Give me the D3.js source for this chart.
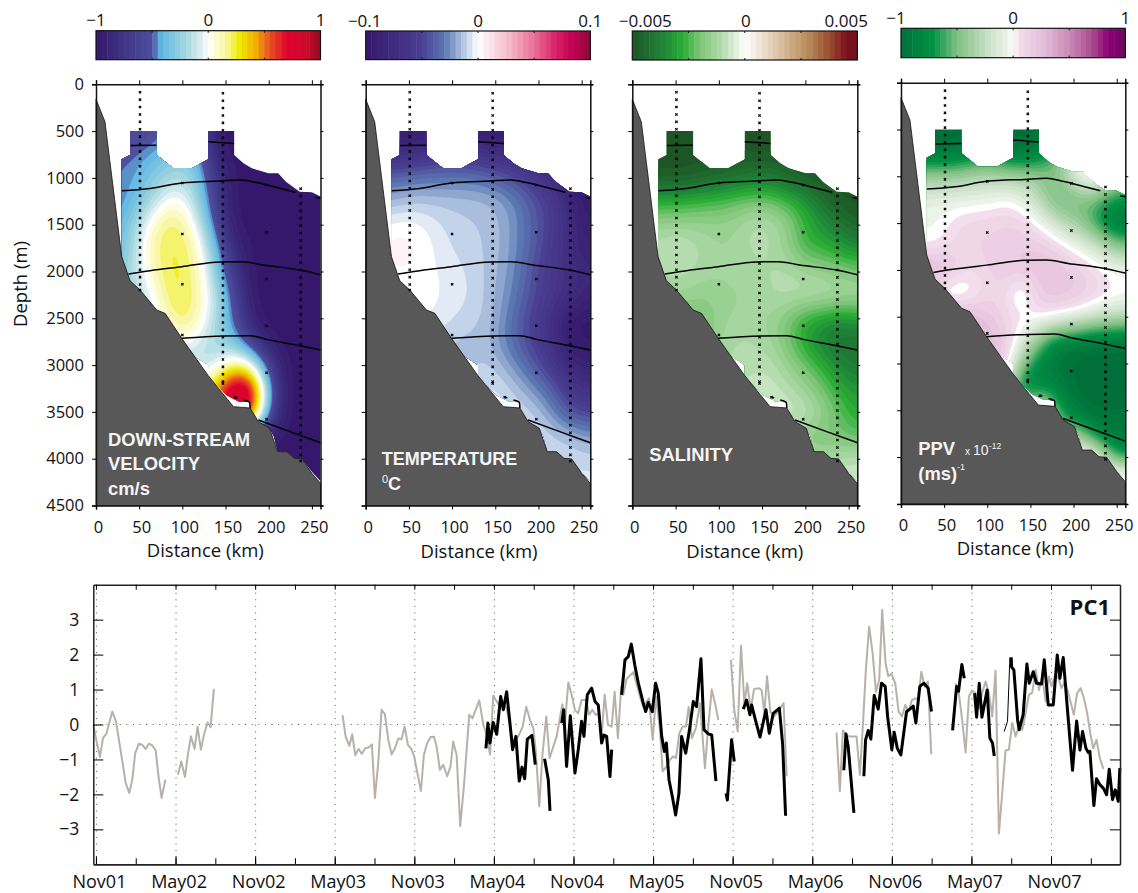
<!DOCTYPE html>
<html>
<head>
<meta charset="utf-8">
<title>PC1</title>
<script src="https://cdnjs.cloudflare.com/ajax/libs/d3/7.8.5/d3.min.js"></script>
<style>
    html, body { margin: 0; padding: 0; background: #fff; }
    text { font-family: "Open Sans", sans-serif; fill: #111; }
    .label-white { font-family: "Liberation Sans", sans-serif; font-weight: bold; fill: #f4f4f4; }
    .label-thin { font-family: "Liberation Sans", sans-serif; fill: #f4f4f4; }
</style>
</head>
<body>
<div id="chart"></div>
<script>
// Section grid: columns in km, rows in m
var gridKm = [20, 40, 60, 80, 100, 120, 140, 160, 180, 200, 220, 240, 260];
var gridDepth = [500, 750, 1000, 1250, 1500, 1750, 2000, 2250, 2500, 2750, 3000, 3250, 3500, 3750, 4000, 4250];

var velocityGrid = [
    [-.6, -.62, -.6, -.5, -.3, -.5, -1, -1, -1, -1, -1, -1, -1],
    [-.5, -.5, -.42, -.35, -.3, -.42, -.95, -1, -1, -1, -1, -1, -1],
    [-.48, -.45, -.33, -.22, -.16, -.3, -.75, -1, -1, -1, -1, -1, -1],
    [-.5, -.42, -.25, .02, .05, -.25, -.7, -1, -1, -1, -1, -1, -1],
    [-.45, -.3, .04, .23, .2, -.08, -.6, -1, -1, -1, -1, -1, -1],
    [-.4, -.25, .1, .24, .24, .1, -.4, -.85, -1, -1, -1, -1, -1],
    [-.35, -.2, .05, .23, .25, .12, -.3, -.75, -1, -1, -1, -1, -1],
    [-.3, -.2, -.08, .2, .26, .14, -.15, -.55, -1, -1, -1, -1, -1],
    [-.3, -.2, -.2, .12, .26, .12, -.2, -.5, -.95, -1, -1, -1, -1],
    [-.3, -.3, -.3, -.2, .08, -.1, -.22, -.35, -.7, -1, -1, -1, -1],
    [-.3, -.3, -.3, -.3, -.2, -.2, -.12, .2, .05, -.65, -1, -1, -1],
    [-.3, -.3, -.3, -.3, -.1, .1, .5, 1, 1, -.4, -1, -1, -1],
    [-.3, -.3, -.3, -.3, 0, .2, .6, 1, .85, -.5, -1, -1, -1],
    [-.3, -.3, -.3, -.3, 0, .1, .2, .3, -.6, -1, -1, -1, -1],
    [-1, -1, -1, -1, -1, -1, -1, -1, -1, -1, -1, -1, -1],
    [-1, -1, -1, -1, -1, -1, -1, -1, -1, -1, -1, -1, -1]
];

var temperatureGrid = [
    [-1, -1, -1, -.95, -.8, -.95, -1, -1, -1, -1, -1, -1, -1],
    [-.7, -.7, -.65, -.6, -.55, -.6, -.65, -.7, -.7, -.8, -.9, -1, -1],
    [-.35, -.33, -.3, -.3, -.3, -.3, -.32, -.4, -.5, -.6, -.75, -1, -1],
    [-.18, -.15, -.12, -.13, -.13, -.14, -.15, -.2, -.3, -.45, -.55, -.85, -1],
    [-.02, .02, 0, -.05, -.1, -.12, -.13, -.18, -.3, -.42, -.55, -.8, -.95],
    [.03, .07, .03, -.03, -.08, -.1, -.13, -.18, -.3, -.44, -.6, -.8, -.9],
    [0, .02, .01, -.02, -.05, -.08, -.13, -.2, -.32, -.5, -.6, -.75, -.82],
    [0, 0, 0, -.01, -.04, -.07, -.13, -.22, -.35, -.5, -.6, -.75, -.85],
    [0, 0, 0, -.03, -.07, -.1, -.13, -.25, -.42, -.55, -.75, -1, -1],
    [-.1, -.1, -.1, -.1, -.13, -.15, -.15, -.28, -.42, -.55, -.75, -1, -1],
    [-.15, -.15, -.15, -.15, -.15, -.15, -.1, -.18, -.3, -.45, -.6, -.85, -.85],
    [-.1, -.1, -.1, -.1, -.1, -.1, -.05, -.08, -.17, -.28, -.42, -.62, -.7],
    [-.05, -.05, -.05, -.05, -.05, -.05, -.03, -.05, -.08, -.12, -.3, -.48, -.52],
    [-.05, -.05, -.05, -.05, -.05, -.05, -.05, -.05, -.06, -.08, -.1, -.15, -.22],
    [-.06, -.06, -.06, -.06, -.06, -.06, -.06, -.06, -.06, -.06, -.08, -.08, -.1],
    [-.05, -.05, -.05, -.05, -.05, -.05, -.05, -.05, -.05, -.05, -.05, -.05, -.05]
];

var salinityGrid = [
    [-1, -1, -1, -1, -1, -1, -1, -1, -1, -1, -1, -1, -1],
    [-1, -1, -1, -1, -1, -1, -1, -1, -1, -1, -1, -1, -1],
    [-1, -1, -1, -.95, -.9, -.85, -.8, -.8, -.9, -1, -1, -1, -1],
    [-.55, -.55, -.55, -.5, -.48, -.42, -.38, -.4, -.5, -.62, -.85, -1, -1],
    [-.32, -.28, -.28, -.28, -.3, -.27, -.18, -.2, -.3, -.55, -.65, -.8, -.95],
    [-.2, -.12, -.15, -.22, -.28, -.27, -.2, -.22, -.32, -.55, -.55, -.62, -.72],
    [-.28, -.2, -.2, -.25, -.26, -.26, -.25, -.22, -.2, -.25, -.3, -.35, -.4],
    [-.3, -.27, -.28, -.32, -.3, -.28, -.27, -.22, -.18, -.16, -.16, -.18, -.2],
    [-.4, -.4, -.42, -.42, -.3, -.26, -.28, -.28, -.4, -.58, -.62, -.72, -.62],
    [-.4, -.4, -.4, -.4, -.28, -.2, -.22, -.26, -.42, -.62, -.8, -.85, -.85],
    [-.3, -.3, -.3, -.3, -.22, -.22, -.2, -.18, -.3, -.42, -.55, -.75, -.8],
    [-.2, -.2, -.2, -.2, -.2, -.15, -.13, -.13, -.2, -.3, -.42, -.58, -.68],
    [-.2, -.2, -.2, -.2, -.2, -.2, -.2, -.12, -.1, -.13, -.28, -.45, -.6],
    [-.25, -.25, -.25, -.25, -.25, -.25, -.25, -.25, -.3, -.35, -.42, -.42, -.5],
    [-.3, -.3, -.3, -.3, -.3, -.3, -.3, -.3, -.3, -.3, -.25, -.2, -.15],
    [-.1, -.1, -.1, -.1, -.1, -.1, -.1, -.1, -.1, -.1, -.1, -.1, -.1]
];

var ppvGrid = [
    [-1, -1, -1, -1, -.7, -1, -1, -1, -1, -1, -1, -1, -1],
    [-1, -1, -1, -.9, -.8, -.95, -1, -.9, -.6, -.1, .15, .1, .1],
    [-.38, -.38, -.38, -.33, -.28, -.33, -.33, -.38, -.5, -.1, .2, -.15, -.3],
    [-.08, -.06, -.06, -.06, -.06, .02, -.05, -.3, -.62, -.6, -.55, -.7, -.8],
    [-.03, -.04, .06, .12, .12, .15, .12, .02, -.2, -.35, -.6, -.95, -1],
    [-.02, -.02, .08, .12, .14, .14, .18, .18, .12, -.02, -.1, -.3, -.5],
    [.38, .38, .22, .08, .12, .2, .2, .25, .25, .18, .1, .02, -.02],
    [.3, -.1, -.2, -.1, .1, .1, -.22, .2, .22, .22, .15, .08, .03],
    [.3, .3, .4, .35, .2, .1, .08, .1, .05, -.02, -.12, -.22, -.25],
    [.3, .3, .3, .3, .3, .2, -.08, -.5, -.85, -.9, -1, -1, -1],
    [.25, .25, .25, .25, .25, .25, -.45, -.8, -1, -1, -1, -1, -1],
    [0, 0, 0, 0, 0, 0, -1, -.9, -.8, -1, -1, -1, -1],
    [0, 0, 0, 0, 0, 0, -.5, .2, -.6, -.95, -1, -1, -.95],
    [0, 0, 0, 0, 0, 0, 0, 0, -.5, -.3, -.8, -.9, -1],
    [0, 0, 0, 0, 0, 0, 0, 0, 0, .1, .2, -.5, -.8],
    [.3, .3, .3, .3, .3, .3, .3, .3, .3, .3, .3, .3, .3]
];

// Sea floor and the outline of the gridded data, [km, m]
var bathymetry = [[0, 160], [10.4, 400], [29.8, 1841], [39.4, 2098], [51, 2198], [70.3, 2411], [80, 2447], [99.3, 2714],
    [130, 3113], [159.2, 3444], [178.5, 3458], [188, 3604], [201, 3675], [210.2, 3925], [221, 3925], [229.5, 3996],
    [238.4, 4002], [250, 4156], [260, 4263], [260, 4500], [0, 4500]];
var dataTop = [[29.8, 1841], [29.8, 801], [39.4, 755], [39.4, 500], [70.3, 500], [70.3, 755], [89.6, 897], [110.8, 897],
    [130, 801], [130, 500], [160, 500], [160, 755], [170.8, 844], [180.5, 897], [199.8, 951], [211, 951], [220, 1040],
    [228.7, 1100], [236, 1147], [250, 1154], [260, 1200]];
var dataBottom = [[260, 4240], [250, 4140], [238.4, 4002], [229.5, 3996], [221, 3925], [210.2, 3925], [206, 3760], [201, 3675],
    [188, 3604], [178.5, 3458], [178.5, 3395], [165, 3385], [151, 3320], [130, 3113], [130, 3000], [112, 2890], [99.3, 2714],
    [80, 2447], [70.3, 2411], [51, 2198], [39.4, 2098]];

// Isopycnals, [km, m]
var isopycnals = [
    [[40, 655], [70, 650]],
    [[130, 613], [145, 622], [160, 634]],
    [[30, 1137], [62.6, 1112], [99.3, 1054], [143.7, 1033], [168.8, 1022], [186, 1050], [217.5, 1122], [231, 1154]],
    [[254, 1208], [260, 1219]],
    [[37.5, 2027], [62.6, 1991], [99.3, 1949], [143.7, 1898], [168.8, 1895], [193.7, 1931], [236, 1984], [260, 2034]],
    [[99.3, 2714], [147.6, 2689], [178.5, 2686], [197.6, 2725], [236, 2793], [260, 2839]],
    [[160, 3344], [164, 3348]],
    [[171, 3373], [178, 3398], [178.5, 3458]],
    [[188, 3587], [224.6, 3711], [260, 3829]]
];

// CTD sample positions
var stationKm = [51, 147, 237];
var stationDepths = [
    [85, 164, 243, 322, 401, 480, 559, 638, 717, 796, 875, 954, 1033, 1112, 1191, 1270, 1349, 1428, 1507, 1586, 1665, 1744, 1823, 1902, 1981, 2060, 2139, 2198],
    [96, 175, 254, 333, 412, 491, 570, 649, 728, 807, 886, 965, 1044, 1123, 1202, 1281, 1360, 1439, 1518, 1597, 1676, 1755, 1834, 1913, 1992, 2071, 2150, 2229, 2308, 2387, 2466, 2545, 2624, 2703, 2782, 2861, 2940, 3019, 3098, 3177, 3195],
    [1115, 1194, 1273, 1352, 1431, 1510, 1589, 1668, 1747, 1826, 1905, 1984, 2063, 2142, 2221, 2300, 2379, 2458, 2537, 2616, 2695, 2774, 2853, 2932, 3011, 3090, 3169, 3248, 3327, 3406, 3485, 3564, 3643, 3722, 3801, 3880, 3959, 4024]
];
var extraStations = [[100, 1054], [100, 1600], [100, 2137], [100, 2678], [197.5, 1076], [197.5, 1580], [197.5, 2080],
    [197.5, 2579], [197.5, 3081], [197.5, 3579], [161, 3344]];

// Colour stops, position on the colour bar from -1 to 1
var velocityStops = [[-1, "#35186b"], [-.75, "#3f3585"], [-.5, "#4f4f9e"], [-.42, "#60b7e4"], [-.19, "#a6d8df"], [-.07, "#d9ecf0"], [0, "#ffffff"],
    [.06, "#fdfcd8"], [.16, "#f8f6a0"], [.28, "#eeeb00"], [.43, "#f2a900"], [.52, "#e9641c"], [.7, "#e00030"], [.875, "#cc0a2a"], [1, "#8c0f20"]];
var temperatureStops = [[-1, "#35186b"], [-.5, "#4a3f92"], [-.3, "#5b77b2"], [-.1, "#c3d4ea"], [0, "#ffffff"],
    [.1, "#fbe6ec"], [.3, "#f3b3c8"], [.5, "#ea6f96"], [.7, "#d81f66"], [.85, "#c10050"], [1, "#8c0a3c"]];
var salinityStops = [[-1, "#1e5526"], [-.7, "#1f8a3a"], [-.55, "#2cae36"], [-.4, "#7cc576"], [-.2, "#b4dcae"], [-.07, "#e5f1e0"], [0, "#ffffff"],
    [.1, "#f4ebe0"], [.3, "#dcc2a4"], [.55, "#b98e5b"], [.75, "#9a4f30"], [.9, "#7d0f1f"], [1, "#6e1519"]];
var ppvStops = [[-1, "#006f3a"], [-.72, "#009245"], [-.5, "#80c082"], [-.2, "#cfe3cc"], [-.04, "#eef4ea"], [0, "#ffffff"],
    [.04, "#f4e0ee"], [.3, "#e0b8d6"], [.5, "#c98bb6"], [.7, "#aa4d90"], [.85, "#8e0073"], [1, "#6d0a63"]];

// PC1 time series, [months since Nov 2001, value]
var greySegments = [
    [[-.2, 0], [-.03, -.34], [.3, -.93], [.53, -.39], [.78, -.27], [1.23, .37], [1.51, .09], [1.93, -.91], [2.24, -1.67], [2.51, -1.96], [2.74, -1.58], [2.96, -.82], [3.24, -.55], [3.49, -.58], [3.74, -.7], [3.99, -.55], [4.25, -.6], [4.5, -.74], [4.72, -1.49], [4.95, -2.1], [5.23, -1.58]],
    [[6.18, -1.44], [6.43, -1.06], [6.71, -1.5], [6.93, -.87], [7.16, -.34], [7.44, -.7], [7.66, -.06], [7.91, -.72], [8.17, -.25], [8.42, .06], [8.64, -.08], [8.89, 1.02]],
    [[18.59, .27], [18.82, -.34], [19.1, -.61], [19.32, -.28], [19.55, -.88], [19.8, -.7], [20.05, -.84], [20.3, -.68], [20.55, -.66], [20.8, -.57], [21.03, -2.1], [21.28, -1.1], [21.53, .42], [21.78, .3], [22.04, -.44], [22.29, -.86], [22.54, -.68], [22.79, -.4], [23.04, -.42], [23.27, -.06], [23.52, -.58], [23.77, -.7], [23.99, -.91], [24.25, -1.43], [24.5, -1.9], [24.72, -.87], [24.97, -.53], [25.23, -.36], [25.48, -.35],
     [25.68, -.63], [25.93, -1.3], [26.18, -1.15], [26.48, -1.48], [26.73, -1.2], [26.93, -.49], [27.19, -.87], [27.46, -2.91], [27.76, -1.67], [28.14, .28], [28.39, .18], [28.9, .69], [29.2, 0], [29.45, -.29], [29.71, -.86], [29.95, .83], [30.21, .66], [30.46, .52], [30.71, .56], [30.96, .47], [31.21, -.06], [31.46, -.53], [31.84, -.34], [32.17, -.06], [32.44, .51], [32.72, .13], [32.97, -.1], [33.17, -.82], [33.42, -2.34], [33.67, -.82], [33.95, .23], [34.2, -.96], [34.73, -.34], [35.16, .58], [35.36, .04], [35.61, 1.2], [35.86, .85], [36.11, .42], [36.36, .32], [36.61, .7], [36.94, .7], [37.19, .28], [37.42, .42], [37.67, .28], [37.95, .32], [38.12, -.34], [38.35, .85], [38.6, -.01], [38.88, -.06], [39.1, .94], [39.35, -.39], [39.6, 1.09], [39.76, .85], [40, 1.3], [40.51, 1.5], [41.01, .8], [41.26, .5], [41.69, .75], [41.97, -.44], [42.22, .8], [42.52, -.15], [42.72, -1.34], [43.02, -1.2], [43.27, -1.01], [43.53, -.91], [43.73, -.96], [43.98, -.25], [44.23, -.06], [44.48, -.06], [44.68, .5], [44.93, -.39], [45.23, -.1], [45.54, .61], [45.91, -1.25], [46.16, -.06], [46.42, 1], [46.67, .61], [46.92, .13]],
    [[47.87, 1.85], [48.12, .42], [48.38, -.2], [48.63, 2.25], [48.88, .61], [49.1, 1.18], [49.36, .42], [49.61, 1.01], [49.93, 1.04], [50.18, .99], [50.39, .32], [50.59, 1.38], [50.84, .37], [51.09, .23], [51.34, .32], [51.59, .47], [51.84, .61], [52.07, -1.48]],
    [[55.83, -.23], [56.08, -1.91], [56.31, -.17], [56.59, -.32], [56.84, -.34], [57.09, -.34], [57.34, -.34], [57.59, -1.44], [57.84, .13], [58.04, 1.56], [58.29, 2.8], [58.55, 2.04], [58.8, .94], [59.05, 1.28], [59.27, 3.28], [59.53, 1.75], [59.73, 1.38], [59.98, 1.45], [60.26, 1.18], [60.51, .37], [60.76, .23], [61.01, .56], [61.26, .37], [61.51, .7], [61.79, .75], [61.99, .7], [62.22, 1.51], [62.47, 1.09], [62.72, 1.23], [62.97, -.85]],
    [[64.8, 1.18], [65.05, .9], [65.3, .13], [65.56, -.8], [65.81, .8], [66.06, .97], [66.31, .9], [66.56, .47], [66.81, .9], [67.07, 1.23], [67.32, .9], [67.57, .23], [67.82, 1.54], [68.07, -3.12], [68.32, -1.97], [68.57, -.74], [68.82, -.72], [69.08, .04], [69.33, -.34], [69.58, -.06], [69.83, -.15], [70.08, .32], [70.33, .85], [70.58, .91], [70.84, 1.56], [71.09, .99], [71.34, 1.37], [71.59, .66], [71.84, 1.37], [72.04, 1.09], [72.29, 1.37], [72.54, 1.37], [72.79, 1.04], [73.05, 1.23], [73.3, .9], [73.72, .28], [73.97, .9], [74.23, 1.04], [74.48, .75], [74.73, .32], [74.98, -.3], [75.18, -.68], [75.43, -.44], [75.68, -.96], [75.94, -1.27]]
];
var blackSegments = [
    [[29.4, -.68], [29.55, .04], [29.7, -.53], [29.95, .06], [30.21, -.28], [30.51, .8], [30.71, .42], [30.96, .94], [31.21, .04], [31.41, -.72], [31.66, -.34], [31.91, -1.62], [32.12, -1.22], [32.32, -1.55], [32.52, -.42], [32.87, -.31], [33.12, -1.15]],
    [[33.82, -.98], [34.1, -1.58], [34.23, -2.47]],
    [[35.11, .04], [35.26, .42], [35.48, -1.2], [35.76, .25], [36.11, -1.39], [36.36, -.72], [36.61, .09], [36.79, -.34], [37.04, .85], [37.37, 1.04], [37.62, .66], [37.87, .56], [38.12, -.53], [38.3, -.3], [38.5, -.34], [38.75, -1.49], [38.88, -.72]],
    [[39.63, .85], [39.88, 1.85], [40.13, 1.94], [40.36, 2.3], [40.63, 1.68], [40.89, 1.18], [41.26, .61], [41.44, .37], [41.64, .63], [41.94, .37], [42.19, 1.18], [42.39, .9], [42.65, -.34], [42.85, -.77], [43, -.53], [43.2, -1.58], [43.45, -2.06], [43.7, -2.59], [43.95, -1.97], [44.15, -.34], [44.46, -.82], [44.78, -.06], [45.03, .66], [45.28, .51], [45.61, 1.88], [45.84, -.15], [46.16, -.27], [46.42, -.3], [46.74, -1.62]],
    [[47.5, -1.97], [47.6, -2.16], [47.92, -.44], [48.12, -1.06]],
    [[48.8, .44], [49.05, .7], [49.3, .28], [49.43, .56], [49.68, .18], [50.06, -.36], [50.51, .42], [50.76, -.25], [51.06, .32], [51.52, .47], [51.77, -.58], [51.99, -2.61]],
    [[56.38, -1.31], [56.54, -.27], [56.71, -.63], [57.14, -2.53]],
    [[57.89, -1.48], [58.02, -.44], [58.22, -.17], [58.42, -.42], [58.67, .83], [58.97, .44], [59.22, 1.18], [59.5, 1.09], [59.68, .23], [60, -.72], [60.18, -.22], [60.41, -.68], [60.68, -.87], [61.11, .37], [61.36, .44], [61.61, .53], [61.81, .04], [62.11, 1.09], [62.42, 1.18], [62.74, 1.04], [62.99, .37]],
    [[64.58, -.17], [64.88, 1.09], [65.03, .95], [65.28, 1.72], [65.46, 1.32]],
    [[66.24, .9], [66.39, .21], [66.59, 1.18], [66.79, .21], [67.19, .99], [67.39, -.39], [67.59, -.53], [67.72, -.9]],
    [[69, 1.92], [69.03, 1.64], [69.2, 1.56], [69.48, .13], [69.6, -.15], [69.9, .28], [70.18, 1.73], [70.36, 1.18], [70.66, 1.51], [70.91, 1.18], [71.29, 1.16], [71.49, 1.85], [71.79, .56], [72.17, .56], [72.47, 1.99], [72.67, 1.32], [72.92, 1.92], [73.22, .51], [73.62, -1.31], [73.93, .1], [74.18, -.73], [74.38, -.2], [74.63, -.68], [74.81, -.8], [74.93, -.77], [75.23, -2.32], [75.43, -1.55], [75.68, -1.72], [75.94, -1.82], [76.19, -2.01], [76.39, -1.28], [76.64, -2.15], [76.84, -1.87], [77.07, -2.2], [77.19, -1.25]]
];
var thinSegment = [[68.47, -.2], [68.72, .09], [68.9, 1.92]];

var monthLabels = ["Nov01", "May02", "Nov02", "May03", "Nov03", "May04", "Nov04", "May05", "Nov05", "May06", "Nov06", "May07", "Nov07"];
var pcTicks = [-3, -2, -1, 0, 1, 2, 3];
var distanceTicks = [0, 50, 100, 150, 200, 250];
var depthTicks = [0, 500, 1000, 1500, 2000, 2500, 3000, 3500, 4000, 4500];

var width = 1138, height = 893;
var svg = d3.select("#chart").append("svg")
    .attr("width", width)
    .attr("height", height)
    .style("display", "block");

function fmtMinus(s) { return String(s).replace("-", "\u2212"); }

/**
 * Upsample a coarse grid so that d3.contours gives smooth bands.
 */
function fineField(grid, k) {
    var nc = gridKm.length, nr = gridDepth.length;
    var w = (nc - 1) * k + 1, h = (nr - 1) * k + 1;
    var data = new Float64Array(w * h);
    for (var j = 0; j < h; j++) {
        var fy = j / k, r0 = Math.min(Math.floor(fy), nr - 2), ty = fy - r0;
        for (var i = 0; i < w; i++) {
            var fx = i / k, c0 = Math.min(Math.floor(fx), nc - 2), tx = fx - c0;
            data[j * w + i] = (1 - ty) * ((1 - tx) * grid[r0][c0] + tx * grid[r0][c0 + 1]) +
                ty * ((1 - tx) * grid[r0 + 1][c0] + tx * grid[r0 + 1][c0 + 1]);
        }
    }
    d3.blur2({data: data, width: w, height: h}, k * 0.45, k * 0.45);
    return {data: data, width: w, height: h};
}

function stopScale(stops) {
    return d3.scaleLinear()
        .domain(stops.map(function(d) { return d[0]; }))
        .range(stops.map(function(d) { return d[1]; }))
        .clamp(true);
}

/**
 * Draw a colour bar and its labels.
 */
function drawColorbar(p) {
    var color = stopScale(p.stops);
    var x = d3.scaleLinear().domain([-1, 1]).range([p.left, p.right]);
    var g = svg.append("g");
    var bands = d3.range(-1, 1, 0.05);

    g.selectAll("rect.band").data(bands).enter().append("rect")
        .attr("class", "band")
        .attr("x", function(d) { return x(d); })
        .attr("y", p.barTop)
        .attr("width", x(0.05) - x(0) + 0.5)
        .attr("height", p.barBottom - p.barTop)
        .attr("fill", function(d) { return color(d + 0.025); });

    g.append("rect")
        .attr("x", p.left).attr("y", p.barTop)
        .attr("width", p.right - p.left).attr("height", p.barBottom - p.barTop)
        .attr("fill", "none").attr("stroke", "#111").attr("stroke-width", 1.2);

    [-0.5, 0, 0.5].forEach(function(t) {
        g.append("line").attr("x1", x(t)).attr("x2", x(t))
            .attr("y1", p.barTop).attr("y2", p.barTop + 2).attr("stroke", "#111");
        g.append("line").attr("x1", x(t)).attr("x2", x(t))
            .attr("y1", p.barBottom - 2).attr("y2", p.barBottom).attr("stroke", "#111");
    });

    p.barLabels.forEach(function(l) {
        g.append("text")
            .attr("x", x(l[1]) + l[2])
            .attr("y", p.barTop - 4.5)
            .attr("text-anchor", "middle")
            .style("font-size", "17px")
            .text(l[0]);
    });
}

/**
 * Draw one section panel.
 */
function drawSection(p, idx) {
    var x = d3.scaleLinear().domain([0, 260]).range([p.left, p.right]);
    var y = d3.scaleLinear().domain([0, 4500]).range([p.top, p.top + 421.2]);
    var color = stopScale(p.stops);
    var line = d3.line()
        .x(function(d) { return x(d[0]); })
        .y(function(d) { return y(d[1]); });

    drawColorbar(p);

    var g = svg.append("g");
    var clipId = "mask" + idx;
    g.append("clipPath").attr("id", clipId)
        .append("path").attr("d", line(dataTop.concat(dataBottom)) + "Z");

    // Filled contours
    var k = 10;
    var fine = fineField(p.grid, k);
    var thresholds = d3.range(-0.975, 1, 0.05);
    var contours = d3.contours()
        .size([fine.width, fine.height])
        .thresholds(thresholds)(fine.data);
    var project = d3.geoTransform({
        point: function(px, py) {
            var km = gridKm[0] + (px - 0.5) / k * (gridKm[1] - gridKm[0]);
            var dep = gridDepth[0] + (py - 0.5) / k * (gridDepth[1] - gridDepth[0]);
            this.stream.point(x(km), y(dep));
        }
    });
    var path = d3.geoPath(project);

    var field = g.append("g").attr("clip-path", "url(#" + clipId + ")");
    field.append("rect")
        .attr("x", x(0)).attr("y", y(400))
        .attr("width", x(260) - x(0)).attr("height", y(4500) - y(400))
        .attr("fill", color(-1));
    field.selectAll("path").data(contours).enter().append("path")
        .attr("d", path)
        .attr("fill", function(d) { return color(d.value + 0.025); })
        .attr("stroke", function(d) { return color(d.value + 0.025); })
        .attr("stroke-width", 0.3);

    // Sea floor
    g.append("path")
        .attr("d", line(bathymetry) + "Z")
        .attr("fill", "#585858")
        .attr("stroke", "#111")
        .attr("stroke-width", 0.8);

    // Isopycnals
    isopycnals.forEach(function(iso) {
        g.append("path")
            .attr("d", line.curve(d3.curveMonotoneX)(iso))
            .attr("fill", "none")
            .attr("stroke", "#000")
            .attr("stroke-width", 1.5);
    });
    line.curve(d3.curveLinear);

    // Sample positions
    var stations = [];
    stationKm.forEach(function(km, i) {
        stationDepths[i].forEach(function(dep) { stations.push([km, dep]); });
    });
    stations = stations.concat(extraStations);
    var sym = d3.symbol().type(d3.symbolCross).size(6);
    g.selectAll("path.station").data(stations).enter().append("path")
        .attr("class", "station")
        .attr("d", sym)
        .attr("fill", "#000")
        .attr("transform", function(d) {
            return "translate(" + x(d[0]) + "," + y(d[1]) + ") rotate(45)";
        });

    // Axes, only the lower one and the left one of the first panel carry text
    var axBottom = d3.axisBottom(x).tickValues(distanceTicks).tickSize(4);
    var axTop = d3.axisTop(x).tickValues(distanceTicks).tickSize(4).tickFormat("");
    var axLeft = d3.axisLeft(y).tickValues(depthTicks).tickSize(4).tickPadding(8).tickFormat(d3.format("d"));
    var axRight = d3.axisRight(y).tickValues(depthTicks).tickSize(3).tickFormat("");
    if (!p.depthLabels) axLeft.tickFormat("");

    var ab = g.append("g").attr("transform", "translate(0," + y(4500) + ")").call(axBottom);
    ab.selectAll("text")
        .attr("transform", "translate(2,0)")
        .attr("y", 27.5)
        .attr("dy", 0)
        .style("font-size", "16.5px");
    g.append("g").attr("transform", "translate(0," + y(0) + ")").call(axTop);
    var al = g.append("g").attr("transform", "translate(" + x(0) + ",0)").call(axLeft);
    al.selectAll("text").style("font-size", "16.5px");
    g.append("g").attr("transform", "translate(" + x(260) + ",0)").call(axRight);
    g.selectAll(".domain").attr("stroke-width", 1.5).attr("stroke", "#111");

    g.append("text")
        .attr("x", (x(0) + x(260)) / 2 + p.labelDx)
        .attr("y", p.labelY)
        .attr("text-anchor", "middle")
        .style("font-size", "18.5px")
        .text("Distance (km)");

    if (p.depthLabels) {
        g.append("text")
            .attr("transform", "translate(27,284) rotate(-90)")
            .attr("text-anchor", "middle")
            .style("font-size", "18.5px")
            .text("Depth (m)");
    }

    p.drawLabels(g);
}

function whiteText(g, cls, px, py, size, str) {
    return g.append("text")
        .attr("class", cls)
        .attr("x", px)
        .attr("y", py)
        .style("font-size", size + "px")
        .text(str);
}

var panels = [
    {
        left: 96, right: 320.5, top: 84.3, barTop: 30.7, barBottom: 59.7, labelDx: -3, labelY: 556.7,
        grid: velocityGrid, stops: velocityStops, depthLabels: true,
        barLabels: [["\u22121", -1, 0], ["0", 0, 0], ["1", 1, 0]],
        drawLabels: function(g) {
            whiteText(g, "label-white", 108, 445.7, 18.4, "DOWN-STREAM");
            whiteText(g, "label-white", 108, 470, 18.4, "VELOCITY");
            whiteText(g, "label-white", 108, 495, 18.4, "cm/s");
        }
    },
    {
        left: 365.7, right: 590.3, top: 84.3, barTop: 31, barBottom: 59.6, labelDx: 1, labelY: 558,
        grid: temperatureGrid, stops: temperatureStops, depthLabels: false,
        barLabels: [["\u22120.1", -1, -1], ["0", 0, 0], ["0.1", 1, 0]],
        drawLabels: function(g) {
            whiteText(g, "label-white", 381.7, 465, 18, "TEMPERATURE");
            whiteText(g, "label-thin", 382, 483, 11, "0");
            whiteText(g, "label-white", 388, 489.5, 18, "C");
        }
    },
    {
        left: 632.3, right: 857.3, top: 84.3, barTop: 31, barBottom: 60, labelDx: 0, labelY: 558,
        grid: salinityGrid, stops: salinityStops, depthLabels: false,
        barLabels: [["\u22120.005", -1, 13], ["0", 0, 1], ["0.005", 1, -11]],
        drawLabels: function(g) {
            whiteText(g, "label-white", 649.3, 460.7, 18.4, "SALINITY");
        }
    },
    {
        left: 901, right: 1125.3, top: 82.7, barTop: 28.3, barBottom: 57.7, labelDx: 2, labelY: 555,
        grid: ppvGrid, stops: ppvStops, depthLabels: false,
        barLabels: [["\u22121", -1, -5], ["0", 0, 0], ["1", 1, 0]],
        drawLabels: function(g) {
            whiteText(g, "label-white", 918.3, 455, 18.4, "PPV");
            whiteText(g, "label-thin", 965, 455, 10, "x");
            whiteText(g, "label-thin", 973, 455, 14, "10");
            whiteText(g, "label-thin", 989, 449, 8.5, "-12");
            whiteText(g, "label-white", 918.3, 480, 18.4, "(ms)");
            whiteText(g, "label-thin", 957, 470, 9, "-1");
        }
    }
];

panels.forEach(drawSection);

/**
 * PC1 time series.
 */
function drawSeries() {
    var left = 93.3, right = 1120, top = 584.7, bottom = 864.3;
    var x = d3.scaleLinear().domain([-0.2, 77.2]).range([left, right]);
    var y = d3.scaleLinear().domain([-4, 4]).range([bottom, top]);
    var g = svg.append("g");
    var line = d3.line()
        .x(function(d) { return x(d[0]); })
        .y(function(d) { return y(d[1]); });

    var halfYears = monthLabels.map(function(d, i) { return i * 6; });
    var quarters = d3.range(0, 78, 3);

    // Dotted grid
    var gridX = g.append("g").attr("transform", "translate(0," + bottom + ")")
        .call(d3.axisBottom(x).tickValues(halfYears).tickSize(-(bottom - top)).tickFormat(""));
    gridX.selectAll("line").attr("stroke", "#555").attr("stroke-dasharray", "1,5.6").attr("stroke-width", 1);
    gridX.select(".domain").remove();
    g.append("line")
        .attr("x1", left).attr("x2", right)
        .attr("y1", y(0)).attr("y2", y(0))
        .attr("stroke", "#555").attr("stroke-dasharray", "1,5.6");

    greySegments.forEach(function(seg) {
        g.append("path").attr("d", line(seg))
            .attr("fill", "none").attr("stroke", "#b6b1ac").attr("stroke-width", 2)
            .attr("stroke-linejoin", "round");
    });
    blackSegments.forEach(function(seg) {
        g.append("path").attr("d", line(seg))
            .attr("fill", "none").attr("stroke", "#000").attr("stroke-width", 3)
            .attr("stroke-linejoin", "round");
    });
    g.append("path").attr("d", line(thinSegment))
        .attr("fill", "none").attr("stroke", "#000").attr("stroke-width", 1);

    // Axes
    g.append("g").attr("transform", "translate(0," + bottom + ")")
        .call(d3.axisBottom(x).tickValues(quarters).tickSizeInner(-6).tickSizeOuter(0).tickFormat(""));
    var axLab = g.append("g").attr("transform", "translate(0," + bottom + ")")
        .call(d3.axisBottom(x).tickValues(halfYears).tickSizeInner(-8).tickSizeOuter(0)
            .tickFormat(function(d, i) { return monthLabels[i]; }));
    axLab.selectAll("text")
        .attr("transform", "translate(3,0)")
        .attr("y", 23.7)
        .attr("dy", 0)
        .style("font-size", "18px");
    g.append("g").attr("transform", "translate(0," + top + ")")
        .call(d3.axisTop(x).tickValues(quarters).tickSizeInner(-5).tickSizeOuter(0).tickFormat(""));
    var axL = g.append("g").attr("transform", "translate(" + left + ",0)")
        .call(d3.axisLeft(y).tickValues(pcTicks).tickSizeInner(-10).tickSizeOuter(0).tickPadding(14)
            .tickFormat(fmtMinus));
    axL.selectAll("text").style("font-size", "17.5px");
    g.append("g").attr("transform", "translate(" + right + ",0)")
        .call(d3.axisRight(y).tickValues(pcTicks).tickSizeInner(-10).tickSizeOuter(0).tickFormat(""));
    g.selectAll(".domain").attr("stroke", "#222").attr("stroke-width", 1.5);

    g.append("text")
        .attr("x", 1110)
        .attr("y", 615)
        .attr("text-anchor", "end")
        .style("font-size", "22px")
        .style("font-weight", "bold")
        .text("PC1");
}

drawSeries();
</script>
</body>
</html>
